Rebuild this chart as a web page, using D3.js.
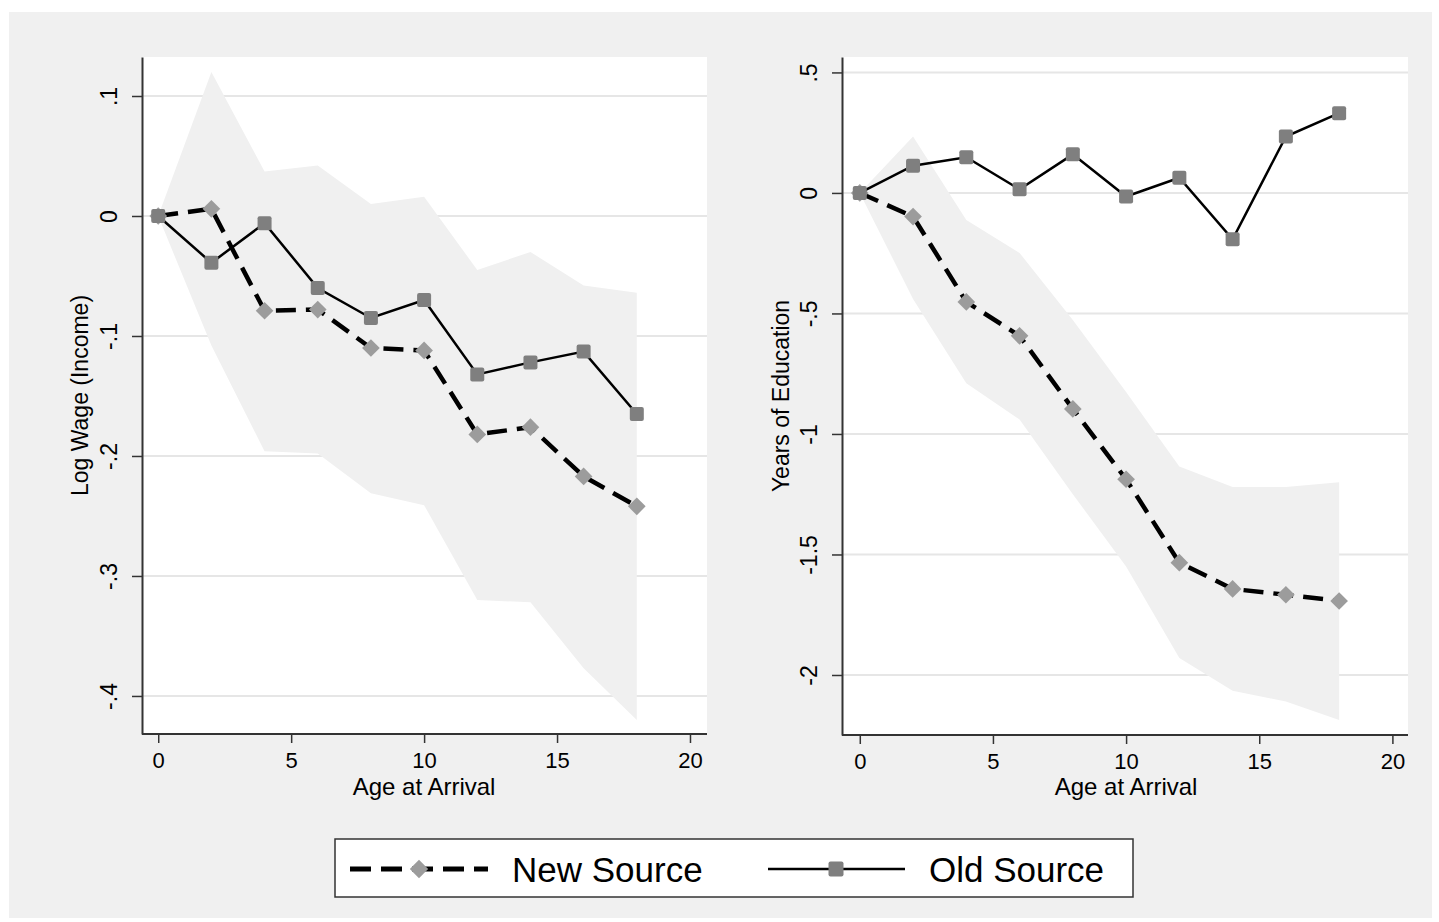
<!DOCTYPE html>
<html>
<head>
<meta charset="utf-8">
<script src="https://cdn.jsdelivr.net/npm/d3@7/dist/d3.min.js"></script>
<style>
  html, body { margin: 0; padding: 0; background: #ffffff; }
  svg { display: block; }
  text { font-family: "Liberation Sans", Arial, sans-serif; fill: #000; }
</style>
</head>
<body>
<svg id="chart" width="1439" height="922"></svg>
<script>
// ---------------- DATA ----------------
const ages = [0, 2, 4, 6, 8, 10, 12, 14, 16, 18];

const wageNew   = [0, 0.006, -0.079, -0.078, -0.110, -0.112, -0.182, -0.176, -0.217, -0.242];
const wageOld   = [0, -0.039, -0.006, -0.060, -0.085, -0.070, -0.132, -0.122, -0.113, -0.165];
const wageUpper = [0, 0.120, 0.037, 0.042, 0.010, 0.016, -0.045, -0.030, -0.058, -0.064];
const wageLower = [0, -0.108, -0.196, -0.198, -0.231, -0.241, -0.320, -0.322, -0.377, -0.420];

const eduNew   = [0, -0.098, -0.452, -0.593, -0.896, -1.188, -1.534, -1.643, -1.667, -1.693];
const eduOld   = [0, 0.113, 0.148, 0.015, 0.160, -0.015, 0.063, -0.192, 0.234, 0.331];
const eduUpper = [0, 0.234, -0.112, -0.249, -0.527, -0.826, -1.135, -1.220, -1.220, -1.200];
const eduLower = [0, -0.440, -0.790, -0.940, -1.250, -1.550, -1.930, -2.065, -2.110, -2.187];

const xTicks = [0, 5, 10, 15, 20];
const wageTicks = [0.1, 0, -0.1, -0.2, -0.3, -0.4];
const wageTickLabels = [".1", "0", "-.1", "-.2", "-.3", "-.4"];
const eduTicks = [0.5, 0, -0.5, -1, -1.5, -2];
const eduTickLabels = [".5", "0", "-.5", "-1", "-1.5", "-2"];

const xTitle = "Age at Arrival";
const seriesNames = ["New Source", "Old Source"];

// ---------------- LAYOUT ----------------
const svg = d3.select("#chart");
svg.append("rect").attr("x", 9).attr("y", 12).attr("width", 1423).attr("height", 906).attr("fill", "#f0f0f0");

const panels = [
  { left: 142, right: 707, top: 57, bottom: 734, xDom: [-0.61, 20.64], yDom: [0.1325, -0.4317],
    newV: wageNew, oldV: wageOld, up: wageUpper, lo: wageLower,
    ticks: wageTicks, labels: wageTickLabels, yTitle: "Log Wage (Income)", yTitleX: 88 },
  { left: 842, right: 1408, top: 57, bottom: 735, xDom: [-0.668, 20.586], yDom: [0.564, -2.249],
    newV: eduNew, oldV: eduOld, up: eduUpper, lo: eduLower,
    ticks: eduTicks, labels: eduTickLabels, yTitle: "Years of Education", yTitleX: 789 }
];

const AXIS = "#333333";
const NEWDASH = "20,10";
const markerNew = "#9c9c9c";
const markerOld = "#7f7f7f";

function drawDiamond(g, cx, cy, s) {
  g.append("rect").attr("x", -s/2).attr("y", -s/2).attr("width", s).attr("height", s)
    .attr("fill", markerNew)
    .attr("transform", `translate(${cx},${cy}) rotate(45)`);
}
function drawSquare(g, cx, cy, s) {
  g.append("rect").attr("x", cx - s/2).attr("y", cy - s/2).attr("width", s).attr("height", s)
    .attr("rx", 2).attr("fill", markerOld);
}

panels.forEach(p => {
  const x = d3.scaleLinear().domain(p.xDom).range([p.left, p.right]);
  const y = d3.scaleLinear().domain(p.yDom).range([p.top, p.bottom]);
  const g = svg.append("g");

  // plot region
  g.append("rect").attr("x", p.left).attr("y", p.top)
    .attr("width", p.right - p.left).attr("height", p.bottom - p.top).attr("fill", "#ffffff");

  // gridlines
  g.selectAll(".grid").data(p.ticks).enter().append("line")
    .attr("x1", p.left).attr("x2", p.right)
    .attr("y1", d => y(d)).attr("y2", d => y(d))
    .attr("stroke", "#e6e6e6").attr("stroke-width", 2);

  // confidence band
  const area = d3.area()
    .x((d, i) => x(ages[i]))
    .y0((d, i) => y(p.lo[i]))
    .y1((d, i) => y(p.up[i]));
  g.append("path").datum(ages).attr("d", area).attr("fill", "#f0f0f0");

  const line = d3.line().x((d, i) => x(ages[i])).y(d => y(d));

  // New source
  g.append("path").datum(p.newV).attr("d", line)
    .attr("fill", "none").attr("stroke", "#000").attr("stroke-width", 4.5)
    .attr("stroke-dasharray", NEWDASH);
  p.newV.forEach((v, i) => drawDiamond(g, x(ages[i]), y(v), 12.5));

  // Old source
  g.append("path").datum(p.oldV).attr("d", line)
    .attr("fill", "none").attr("stroke", "#000").attr("stroke-width", 2.5);
  p.oldV.forEach((v, i) => drawSquare(g, x(ages[i]), y(v), 14));

  // Y axis
  const yAxis = d3.axisLeft(y).tickValues(p.ticks)
    .tickFormat((d, i) => p.labels[i]).tickSize(10).tickSizeOuter(0);
  const ya = g.append("g").attr("transform", `translate(${p.left},0)`).call(yAxis);
  ya.select(".domain").attr("stroke", AXIS).attr("stroke-width", 2);
  ya.selectAll(".tick line").attr("stroke", AXIS).attr("stroke-width", 1.5);
  ya.selectAll(".tick text")
    .attr("x", 0).attr("y", -25).attr("dy", 0)
    .attr("transform", "rotate(-90)")
    .attr("text-anchor", "middle")
    .style("font-size", "23px").style("font-family", "'Liberation Sans', Arial, sans-serif").attr("fill", "#000");

  // X axis
  const xAxis = d3.axisBottom(x).tickValues(xTicks).tickSize(9).tickSizeOuter(0);
  const xa = g.append("g").attr("transform", `translate(0,${p.bottom})`).call(xAxis);
  xa.select(".domain").attr("stroke", AXIS).attr("stroke-width", 2)
    .attr("d", `M${p.left},0H${p.right}`);
  xa.selectAll(".tick line").attr("stroke", AXIS).attr("stroke-width", 1.5);
  xa.selectAll(".tick text").attr("y", 34).attr("dy", 0)
    .style("font-size", "22px").style("font-family", "'Liberation Sans', Arial, sans-serif").attr("fill", "#000");

  // titles
  g.append("text").attr("x", x(10)).attr("y", 795).attr("text-anchor", "middle")
    .style("font-size", "24px").text(xTitle);
  g.append("text").attr("transform", `translate(${p.yTitleX},${(p.top + p.bottom) / 2}) rotate(-90)`)
    .attr("text-anchor", "middle").style("font-size", "23px").text(p.yTitle);
});

// ---------------- LEGEND ----------------
const lg = svg.append("g");
lg.append("rect").attr("x", 335).attr("y", 839).attr("width", 798).attr("height", 58)
  .attr("fill", "#ffffff").attr("stroke", AXIS).attr("stroke-width", 1.5);
lg.append("line").attr("x1", 350).attr("x2", 488).attr("y1", 869).attr("y2", 869)
  .attr("stroke", "#000").attr("stroke-width", 5).attr("stroke-dasharray", "21,10");
drawDiamond(lg, 419, 869, 13);
lg.append("text").attr("x", 512).attr("y", 882).style("font-size", "35px").text(seriesNames[0]);
lg.append("line").attr("x1", 768).attr("x2", 905).attr("y1", 869).attr("y2", 869)
  .attr("stroke", "#000").attr("stroke-width", 2.5);
drawSquare(lg, 836, 869, 15);
lg.append("text").attr("x", 929).attr("y", 882).style("font-size", "35px").text(seriesNames[1]);
</script>
</body>
</html>
